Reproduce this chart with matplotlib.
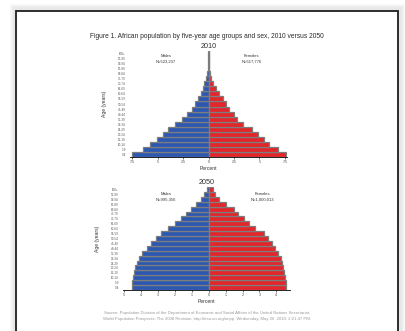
import matplotlib.pyplot as plt
from matplotlib.patches import Rectangle
import numpy as np

plt.rcParams['font.family'] = ['Liberation Sans', 'DejaVu Sans']

age_groups = ['0-4', '5-9', '10-14', '15-19', '20-24', '25-29', '30-34', '35-39',
              '40-44', '45-49', '50-54', '55-59', '60-64', '65-69', '70-74',
              '75-79', '80-84', '85-89', '90-94', '95-99', '100+']

# percent of total population, youngest group first
male_2010 = [7.5, 6.4, 5.7, 5.1, 4.5, 4.0, 3.3, 2.6, 2.1, 1.6, 1.3, 1.0, 0.7,
             0.5, 0.4, 0.2, 0.1, 0.05, 0.02, 0.01, 0.005]
female_2010 = [7.6, 6.8, 5.9, 5.4, 4.9, 4.3, 3.4, 2.8, 2.5, 2.0, 1.7, 1.4, 1.0,
               0.7, 0.4, 0.2, 0.1, 0.05, 0.03, 0.01, 0.005]
male_2050 = [4.5, 4.5, 4.47, 4.4, 4.35, 4.25, 4.1, 3.9, 3.65, 3.4, 3.1, 2.8,
             2.4, 2.0, 1.65, 1.35, 1.06, 0.76, 0.47, 0.3, 0.12]
female_2050 = [4.59, 4.59, 4.53, 4.47, 4.4, 4.3, 4.24, 4.12, 3.94, 3.76, 3.53,
               3.24, 2.76, 2.4, 2.06, 1.76, 1.47, 1.05, 0.6, 0.35, 0.24]

totals_2010 = ('N=523,237', 'N=517,776')
totals_2050 = ('N=995,356', 'N=1,000,013')

ticks_2010 = [-7.5, -5, -2.5, 0, 2.5, 5, 7.5]
ticks_2050 = [-5, -4, -3, -2, -1, 0, 1, 2, 3, 4]

title = 'Figure 1. African population by five-year age groups and sex, 2010 versus 2050'
source = ('Source: Population Division of the Department of Economic and Social Affairs of the United Nations Secretariat,\n'
          'World Population Prospects: The 2008 Revision, http://esa.un.org/unpp, Wednesday, May 26, 2010; 2:21:47 PM.')

W, H = 405, 331
fig = plt.figure(figsize=(W / 100, H / 100), dpi=100)
fig.patch.set_facecolor('white')

def px(x, y, w, h):
    return [x / W, 1 - (y + h) / H, w / W, h / H]

# page with a soft drop shadow, kept behind the axes
for i, a in enumerate([0.05, 0.05, 0.06, 0.07]):
    d = 4 - i
    fig.patches.append(Rectangle((14 / W - d / W, 0), (387 + 2 * d) / W, 1 - (8 - d) / H,
                                 transform=fig.transFigure, facecolor='#9a9a9a',
                                 edgecolor='none', alpha=a, zorder=-3))
fig.patches.append(Rectangle((16 / W, -0.01), 382 / W, 1 - 11 / H + 0.01,
                             transform=fig.transFigure, facecolor='white',
                             edgecolor='#1e1e1e', linewidth=1.3, zorder=-2))

fig.text(207 / W, 1 - 37 / H, title, ha='center', va='center', fontsize=4.8, color='#2a2a2a')

blue = '#2c58b2'
red = '#e3262a'
y = np.arange(len(age_groups))

def pyramid(rect, males, females, xlim, ticks, year, totals, lab_m, lab_f):
    ax = fig.add_axes(px(*rect))
    ax.patch.set_alpha(0)
    ax.barh(y, [-v for v in males], height=1.0, color=blue, edgecolor='#7d7d7d', linewidth=0.9)
    ax.barh(y, females, height=1.0, color=red, edgecolor='#7d7d7d', linewidth=0.9)
    ax.set_xlim(*xlim)
    ax.set_ylim(-0.5, len(age_groups) - 0.5)
    ax.set_xticks(ticks)
    ax.set_xticklabels([f'{abs(t):g}' for t in ticks], fontsize=2.6, color='#444444')
    ax.set_yticks(y)
    ax.set_yticklabels(age_groups, fontsize=2.2, color='#555555')
    ax.tick_params(axis='y', length=0, pad=3)
    ax.tick_params(axis='x', length=1.5, width=0.4, pad=1)
    for s in ['top', 'right', 'left']:
        ax.spines[s].set_visible(False)
    ax.spines['bottom'].set_linewidth(0.6)
    ax.set_xlabel('Percent', fontsize=3.6, labelpad=1, color='#333333')
    ax.set_ylabel('Age (years)', fontsize=3.6, labelpad=8, color='#333333')
    ax.set_title(year, fontsize=5.2, pad=2, color='#333333')
    ax.text(lab_m[0], lab_m[1], 'Males\n' + totals[0], transform=ax.transData,
            ha='center', va='center', fontsize=3.0, color='#333333', linespacing=1.4)
    ax.text(lab_f[0], lab_f[1], 'Females\n' + totals[1], transform=ax.transData,
            ha='center', va='center', fontsize=3.0, color='#333333', linespacing=1.4)
    return ax

pyramid((130, 51, 157, 106), male_2010, female_2010, (-7.7, 7.7), ticks_2010, '2010',
        totals_2010, (-4.2, 19.0), (4.2, 19.0))
pyramid((123, 187, 167, 103), male_2050, female_2050, (-5.05, 4.8), ticks_2050, '2050',
        totals_2050, (-2.5, 18.5), (3.2, 18.5))

fig.text(207 / W, 1 - 316 / H, source, ha='center', va='center', fontsize=3.1,
         color='#9a9a9a', linespacing=1.5)

fig.savefig('out.png', dpi=100)
